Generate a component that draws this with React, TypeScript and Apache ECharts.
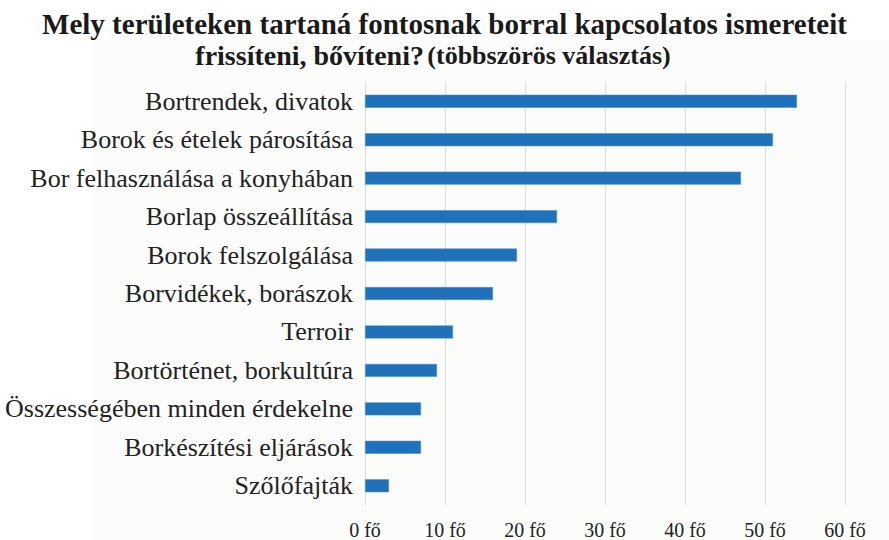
import React, { useEffect, useRef } from "react";
import * as echarts from "echarts";

const categories = [
  "Bortrendek, divatok",
  "Borok és ételek párosítása",
  "Bor felhasználása a konyhában",
  "Borlap összeállítása",
  "Borok felszolgálása",
  "Borvidékek, borászok",
  "Terroir",
  "Bortörténet, borkultúra",
  "Összességében minden érdekelne",
  "Borkészítési eljárások",
  "Szőlőfajták",
];
const values = [54, 51, 47, 24, 19, 16, 11, 9, 7, 7, 3];
const titleLine1 = "Mely területeken tartaná fontosnak borral kapcsolatos ismereteit";
const titleLine2a = "frissíteni, bővíteni?";
const titleLine2b = "(többszörös választás)";
const unit = "fő";

export default function App() {
  const ref = useRef<HTMLDivElement>(null);
  useEffect(() => {
    if (!ref.current) return;
    const chart = echarts.init(ref.current, undefined, { renderer: "svg" });
    const serif = "Liberation Serif";
    chart.setOption({
      animation: false,
      backgroundColor: "#ffffff",
      graphic: [
        {
          type: "rect",
          z: -10,
          silent: true,
          shape: { x: 90, y: 40, width: 799, height: 500 },
          style: { fill: "#fcfcfb" },
        },
        {
          type: "text",
          left: "center",
          top: 9,
          style: {
            text: titleLine1,
            font: `bold 29px '${serif}'`,
            fill: "#1a1a1a",
          },
        },
        {
          type: "text",
          x: 433,
          y: 41,
          style: {
            text: `{a|${titleLine2a}} {b|${titleLine2b}}`,
            align: "center",
            verticalAlign: "top",
            fill: "#1a1a1a",
            rich: {
              a: { fontFamily: serif, fontWeight: "bold", fontSize: 28, fill: "#1a1a1a" },
              b: { fontFamily: serif, fontWeight: "bold", fontSize: 26, fill: "#1a1a1a" },
            },
          },
        },
      ],
      grid: { left: 365, right: 44, top: 82, bottom: 34, containLabel: false },
      xAxis: {
        type: "value",
        min: 0,
        max: 60,
        interval: 10,
        axisLine: { show: false },
        axisTick: { show: false },
        axisLabel: {
          formatter: (v: number) => `${v} ${unit}`,
          fontFamily: serif,
          fontSize: 20,
          color: "#222222",
          margin: 15,
        },
        splitLine: { lineStyle: { color: "#d9dee5", width: 1 } },
      },
      yAxis: {
        type: "category",
        inverse: true,
        data: categories,
        axisLine: { show: true, lineStyle: { color: "#d9dee5", width: 1 } },
        axisTick: { show: false },
        axisLabel: {
          fontFamily: serif,
          fontSize: 26,
          color: "#222222",
          margin: 12,
        },
      },
      series: [
        {
          type: "bar",
          data: values,
          barWidth: 13,
          itemStyle: { color: "#1f72b9", borderColor: "#4a90d0", borderWidth: 0.6 },
        },
      ],
    });
    return () => chart.dispose();
  }, []);
  return (
    <div
      ref={ref}
      style={{ position: "fixed", left: 0, top: 0, width: 889, height: 540 }}
    />
  );
}
